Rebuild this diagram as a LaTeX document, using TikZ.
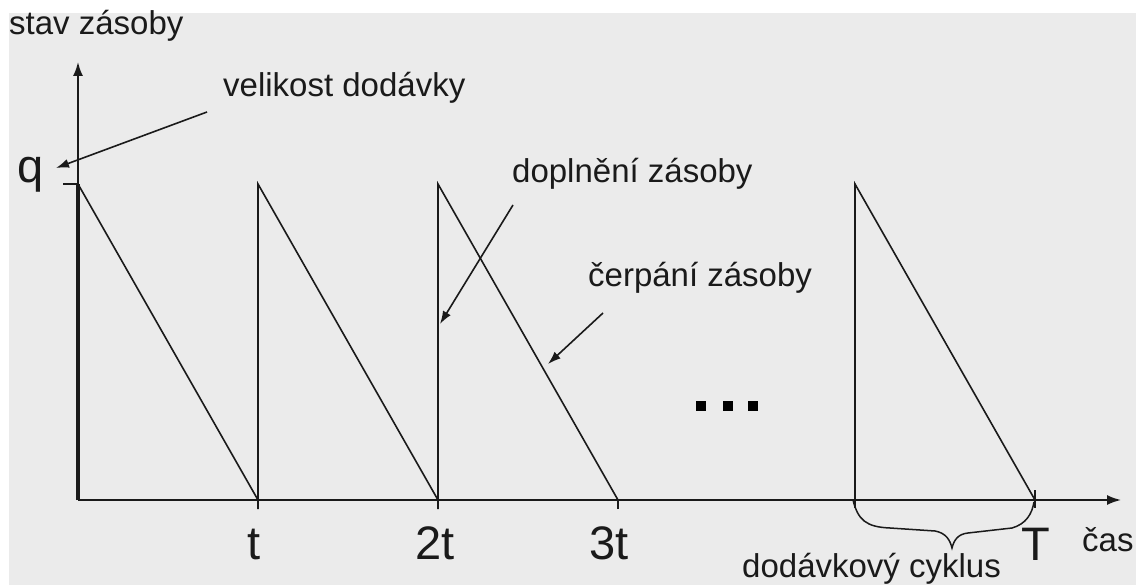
\documentclass[tikz,border=0pt]{standalone}
\usepackage{fontspec}
\setmainfont{Liberation Sans}
\usetikzlibrary{arrows.meta,calc}
\definecolor{bggray}{HTML}{EBEBEB}
\definecolor{ink}{HTML}{1A1A1A}
\tikzset{
  lbl/.style={inner sep=0pt, text=ink, font=\fontsize{33}{40}\selectfont},
  biglbl/.style={inner sep=0pt, text=ink, anchor=base, font=\fontsize{47}{56}\selectfont},
  ln/.style={line width=1.6pt, ink},
  axis/.style={line width=1.8pt, ink, -{Latex[length=14pt,width=10pt]}},
  note/.style={line width=1.6pt, ink, -{Latex[length=13pt,width=9pt]}},
  dot/.style={fill=black, inner sep=0pt, minimum size=10pt}
}
\begin{document}
\begin{tikzpicture}[x=1pt,y=-1pt]
\useasboundingbox (0,0) rectangle (1136,585);
\fill[white] (0,0) rectangle (1136,585);
\fill[bggray] (9,13) rectangle (1136,585);
% coordinates
\coordinate (O) at (78,500);
\coordinate (Ytop) at (78,62);
\coordinate (Xend) at (1121,500);
\coordinate (P0) at (78,184);
\coordinate (B1) at (258,500);
\coordinate (P1) at (258,184);
\coordinate (B2) at (438,500);
\coordinate (P2) at (438,184);
\coordinate (B3) at (618,500);
\coordinate (B4) at (855,500);
\coordinate (P4) at (855,184);
\coordinate (B5) at (1035,500);
% axes
\draw[axis] (O) -- (Ytop);
\draw[axis] (O) -- (Xend);
\draw[line width=3.4pt, ink] (O) -- (P0);
\draw[ln] (63,184) -- (P0);
% sawtooth
\draw[ln] (P0) -- (B1);
\draw[ln] ($(B1)+(0,9)$) -- (P1) -- (B2);
\draw[ln] ($(B2)+(0,9)$) -- (P2) -- (B3);
\draw[ln] ($(B3)+(0,9)$) -- (B3);
\draw[ln] (B4) -- (P4) -- (B5);
\draw[ln] (855,490) -- (855,508);
\draw[ln] (1035,490) -- (1035,508);
% brace
\draw[line width=1.5pt, ink] (853,500) .. controls (858,520) and (866,527) .. (890,528)
  -- (935,531) .. controls (946,533) and (950,540) .. (952,548)
  .. controls (954,540) and (958,534) .. (968,533)
  -- (1012,528) .. controls (1026,524) and (1032,514) .. (1034,502);
% dots
\node[dot] (d1) at (701,406) {};
\node[dot] (d2) at (728,406) {};
\node[dot] (d3) at (753,406) {};
% labels
\node[lbl, anchor=base west] (stav) at (9,35) {stav zásoby};
\node[lbl, anchor=base west] (vel) at (223,97) {velikost dodávky};
\node[lbl, anchor=base west] (dopl) at (512,183) {doplnění zásoby};
\node[lbl, anchor=base west] (cerp) at (588,287) {čerpání zásoby};
\node[lbl, anchor=base west] (cyk) at (742,577) {dodávkový cyklus};
\node[lbl, anchor=base west] (cas) at (1082,551) {čas};
\node[biglbl] (q) at (31,183) {q};
\node[biglbl] (t1) at (254,559) {t};
\node[biglbl] (t2) at (435,559) {2t};
\node[biglbl] (t3) at (609,559) {3t};
\node[biglbl] (T) at (1036,560) {T};
% annotation arrows
\coordinate (velS) at (207,112);
\coordinate (velE) at (56,168);
\draw[note] (velS) -- (velE);
\coordinate (dopS) at (513,205);
\coordinate (dopE) at (440,324);
\draw[note] (dopS) -- (dopE);
\coordinate (cerS) at (603,313);
\coordinate (cerE) at (548,364);
\draw[note] (cerS) -- (cerE);
\end{tikzpicture}
\end{document}
